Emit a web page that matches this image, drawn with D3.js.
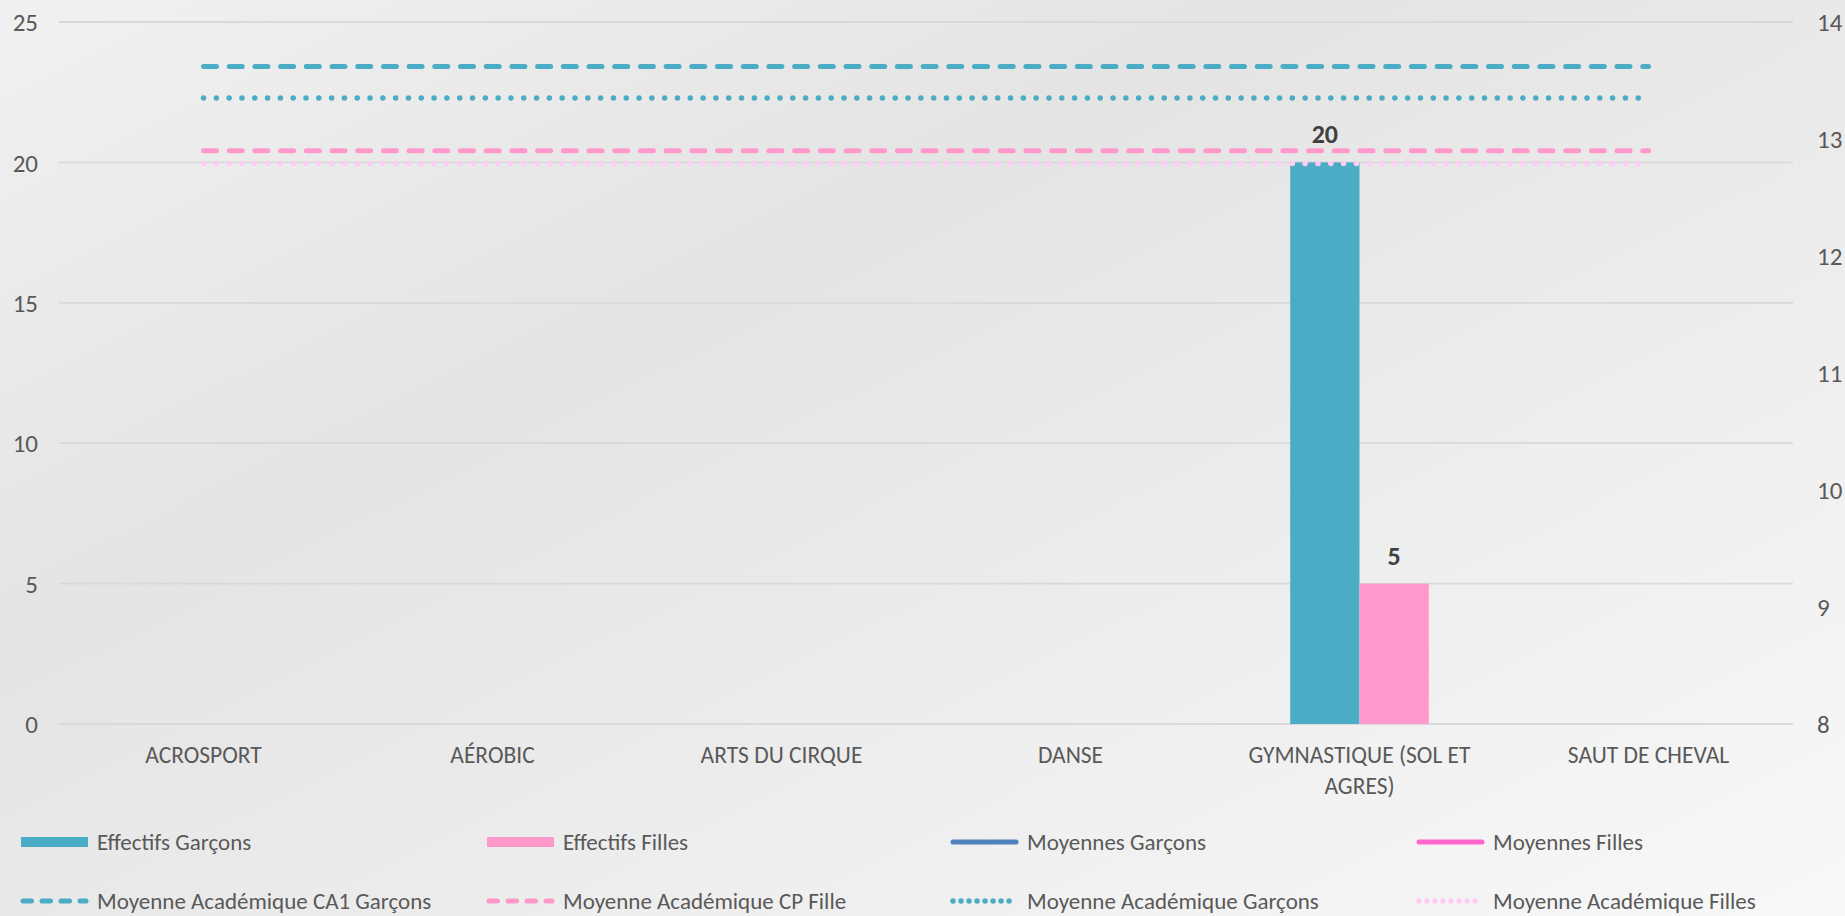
<!DOCTYPE html>
<html><head><meta charset="utf-8">
<script src="https://cdn.jsdelivr.net/npm/d3@7"></script>
<style>
html,body{margin:0;padding:0;overflow:hidden;}
svg{display:block;}
text{font-family: Carlito, Calibri, Lato, "Open Sans", sans-serif;}
</style></head>
<body>
<svg id="chart" width="1845" height="916"></svg>
<script>
// ---- data ----
const categories = ["ACROSPORT", "AÉROBIC", "ARTS DU CIRQUE", "DANSE", "GYMNASTIQUE (SOL ET AGRES)", "SAUT DE CHEVAL"];
const effectifsGarcons = [null, null, null, null, 20, null];
const effectifsFilles  = [null, null, null, null, 5, null];
const moyennesGarcons  = [null, null, null, null, null, null];
const moyennesFilles   = [null, null, null, null, null, null];
const moyAcaCA1Garcons = [13.62, 13.62, 13.62, 13.62, 13.62, 13.62];
const moyAcaCPFille    = [12.9, 12.9, 12.9, 12.9, 12.9, 12.9];
const moyAcaGarcons    = [13.35, 13.35, 13.35, 13.35, 13.35, 13.35];
const moyAcaFilles     = [12.79, 12.79, 12.79, 12.79, 12.79, 12.79];
const leftTicks  = [0, 5, 10, 15, 20, 25];
const rightTicks = [8, 9, 10, 11, 12, 13, 14];

// ---- series styling ----
const barSeries = [
  {name: "Effectifs Garçons", values: effectifsGarcons, color: "#4BACC6"},
  {name: "Effectifs Filles",  values: effectifsFilles,  color: "#FF99CC"}
];
const lineSeries = [
  {name: "Moyennes Garçons", values: moyennesGarcons, color: "#4F81BD", dash: null, w: 5},
  {name: "Moyennes Filles", values: moyennesFilles, color: "#FF66CC", dash: null, w: 5},
  {name: "Moyenne Académique CA1 Garçons", values: moyAcaCA1Garcons, color: "#4BACC6", dash: "13,12.7", w: 5},
  {name: "Moyenne Académique CP Fille", values: moyAcaCPFille, color: "#FF99CC", dash: "13,12.7", w: 5},
  {name: "Moyenne Académique Garçons", values: moyAcaGarcons, color: "#4BACC6", dash: "0.01,12.8", w: 5.5},
  {name: "Moyenne Académique Filles", values: moyAcaFilles, color: "#FFCCF7", dash: "0.01,12.8", w: 5.5}
];

const svg = d3.select("#chart");
const W = 1845, H = 916;

// background gradient
const defs = svg.append("defs");
const grad = defs.append("linearGradient").attr("id","bg")
  .attr("x1","0%").attr("y1","0%").attr("x2","100%").attr("y2","100%");
grad.append("stop").attr("offset","0%").attr("stop-color","#F1F1F1");
grad.append("stop").attr("offset","35%").attr("stop-color","#E4E4E4");
grad.append("stop").attr("offset","100%").attr("stop-color","#F8F8F8");
svg.append("rect").attr("width",W).attr("height",H).attr("fill","url(#bg)");

const plot = {left: 59, right: 1793, top: 22, bottom: 724};

const x = d3.scaleBand().domain(categories).range([plot.left, plot.right]).paddingInner(0).paddingOuter(0);
const xSub = d3.scaleBand().domain(barSeries.map(s => s.name)).range([0, x.bandwidth()]).paddingInner(0).paddingOuter(1.085);
const yL = d3.scaleLinear().domain([0, 25]).range([plot.bottom, plot.top]);
const yR = d3.scaleLinear().domain([8, 14]).range([plot.bottom, plot.top]);

// gridlines
svg.append("g").selectAll("line").data(leftTicks).join("line")
  .attr("x1", plot.left).attr("x2", plot.right)
  .attr("y1", d => yL(d)).attr("y2", d => yL(d))
  .attr("stroke", "#D9D9D9").attr("stroke-width", 1.8);

// left axis
const axL = svg.append("g").attr("transform", `translate(38,0)`)
  .call(d3.axisLeft(yL).tickValues(leftTicks).tickFormat(d3.format("d")).tickSize(0).tickPadding(0));
axL.select(".domain").remove();
axL.selectAll("text").attr("fill","#595959").style("font-size","25px").attr("dy","0.35em");

// right axis
const axR = svg.append("g").attr("transform", `translate(1817,0)`)
  .call(d3.axisRight(yR).tickValues(rightTicks).tickFormat(d3.format("d")).tickSize(0).tickPadding(0));
axR.select(".domain").remove();
axR.selectAll("text").attr("fill","#595959").style("font-size","25px").attr("dy","0.35em");

// x axis labels
const axX = svg.append("g").attr("transform", `translate(0,${plot.bottom})`)
  .call(d3.axisBottom(x).tickSize(0).tickPadding(39));
axX.select(".domain").remove();
axX.selectAll("text").attr("fill","#595959").style("font-size","23.5px").attr("dy", "0em")
  .call(wrap, x.step() * 0.95);

function wrap(sel, width) {
  sel.each(function() {
    const t = d3.select(this);
    const words = t.text().split(/\s+/);
    const yy = t.attr("y");
    t.text(null);
    let line = [], lineNo = 0;
    let tspan = t.append("tspan").attr("x", 0).attr("y", yy).attr("dy", "0em");
    for (const w of words) {
      line.push(w);
      tspan.text(line.join(" "));
      if (tspan.node().getComputedTextLength() > width && line.length > 1) {
        line.pop();
        tspan.text(line.join(" "));
        line = [w];
        lineNo++;
        tspan = t.append("tspan").attr("x", 0).attr("y", yy).attr("dy", (lineNo * 31) + "px").text(w);
      }
    }
  });
}

// bars
const barG = svg.append("g");
barSeries.forEach(s => {
  const data = categories.map((c, i) => ({c, v: s.values[i]})).filter(d => d.v != null);
  barG.append("g").selectAll("rect").data(data).join("rect")
    .attr("x", d => x(d.c) + xSub(s.name))
    .attr("width", xSub.bandwidth())
    .attr("y", d => yL(d.v))
    .attr("height", d => yL(0) - yL(d.v))
    .attr("fill", s.color);
});

// lines
const lineGen = d3.line()
  .defined(d => d.v != null)
  .x(d => x(d.c) + x.bandwidth() / 2)
  .y(d => yR(d.v));
const lineG = svg.append("g");
lineSeries.forEach(s => {
  const data = categories.map((c, i) => ({c, v: s.values[i]}));
  lineG.append("path").datum(data)
    .attr("d", lineGen)
    .attr("fill", "none")
    .attr("stroke", s.color)
    .attr("stroke-width", s.w)
    .attr("stroke-linecap", "round")
    .attr("stroke-dasharray", s.dash);
});

// bar value labels
barSeries.forEach(s => {
  const data = categories.map((c, i) => ({c, v: s.values[i]})).filter(d => d.v != null);
  svg.append("g").selectAll("text").data(data).join("text")
    .attr("x", d => x(d.c) + xSub(s.name) + xSub.bandwidth() / 2)
    .attr("y", d => yL(d.v) - 19)
    .attr("text-anchor", "middle")
    .attr("fill", "#404040")
    .style("font-size", "26px").style("font-weight", "bold")
    .text(d => d.v);
});

// legend
const legendItems = [
  {type: "bar", s: barSeries[0]}, {type: "bar", s: barSeries[1]},
  {type: "line", s: lineSeries[0]}, {type: "line", s: lineSeries[1]},
  {type: "line", s: lineSeries[2]}, {type: "line", s: lineSeries[3]},
  {type: "line", s: lineSeries[4]}, {type: "line", s: lineSeries[5]}
];
const colX = [20, 486, 950, 1416];
const rowY = [842, 901];
const lg = svg.append("g");
legendItems.forEach((it, i) => {
  const gx = colX[i % 4], gy = rowY[Math.floor(i / 4)];
  const g = lg.append("g").attr("transform", `translate(${gx},${gy})`);
  if (it.type === "bar") {
    g.append("rect").attr("x", 1).attr("y", -5).attr("width", 67).attr("height", 10).attr("fill", it.s.color);
  } else {
    g.append("line").attr("x1", 3).attr("x2", 66).attr("y1", 0).attr("y2", 0)
      .attr("stroke", it.s.color).attr("stroke-width", it.s.w)
      .attr("stroke-linecap", "round")
      .attr("stroke-dasharray", it.s.dash ? (it.s.dash.startsWith("0.01") ? "0.01,8" : "8.5,10.5") : null);
  }
  g.append("text").attr("x", 77).attr("y", 0).attr("dy", "0.35em")
    .attr("fill", "#595959").style("font-size", "23px").text(it.s.name);
});
</script>
</body></html>
